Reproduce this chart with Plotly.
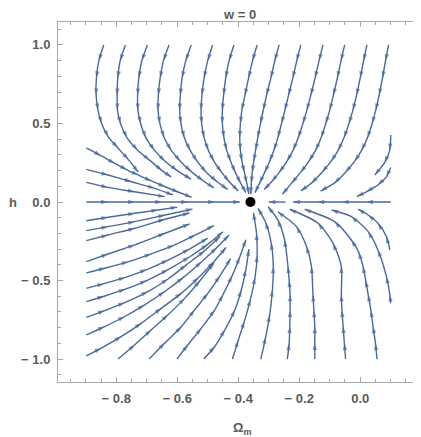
import plotly.graph_objects as go

# ---------------- data ----------------
fixed_point_x = [-0.36]
fixed_point_y = [0.0]

# streamlines entering from the top edge (h = 1)
top_streams = [
    [(-0.841, 1.0), (-0.857, 0.90), (-0.865, 0.79), (-0.866, 0.68), (-0.86, 0.585), (-0.848, 0.50), (-0.826, 0.415), (-0.795, 0.345), (-0.76, 0.27), (-0.728, 0.19)],
    [(-0.770, 1.0), (-0.787, 0.90), (-0.795, 0.79), (-0.797, 0.68), (-0.796, 0.585), (-0.786, 0.50), (-0.765, 0.41), (-0.73, 0.33), (-0.69, 0.265), (-0.65, 0.20), (-0.62, 0.16)],
    [(-0.698, 1.0), (-0.716, 0.90), (-0.726, 0.79), (-0.730, 0.68), (-0.729, 0.585), (-0.72, 0.50), (-0.703, 0.41), (-0.675, 0.33), (-0.64, 0.26), (-0.60, 0.20), (-0.555, 0.145)],
    [(-0.627, 1.0), (-0.645, 0.90), (-0.656, 0.79), (-0.662, 0.68), (-0.663, 0.585), (-0.657, 0.50), (-0.643, 0.41), (-0.62, 0.33), (-0.59, 0.26), (-0.555, 0.195), (-0.515, 0.135), (-0.48, 0.09)],
    [(-0.554, 1.0), (-0.572, 0.90), (-0.584, 0.79), (-0.59, 0.68), (-0.592, 0.585), (-0.588, 0.50), (-0.577, 0.41), (-0.558, 0.33), (-0.535, 0.26), (-0.505, 0.19), (-0.47, 0.13), (-0.435, 0.08)],
    [(-0.484, 1.0), (-0.50, 0.90), (-0.512, 0.79), (-0.519, 0.68), (-0.522, 0.585), (-0.52, 0.50), (-0.512, 0.41), (-0.498, 0.33), (-0.48, 0.26), (-0.455, 0.19), (-0.43, 0.13), (-0.40, 0.07)],
    [(-0.414, 1.0), (-0.43, 0.90), (-0.441, 0.79), (-0.448, 0.68), (-0.452, 0.585), (-0.452, 0.50), (-0.447, 0.41), (-0.438, 0.33), (-0.425, 0.26), (-0.41, 0.19), (-0.392, 0.12), (-0.375, 0.06)],
    [(-0.338, 1.0), (-0.353, 0.90), (-0.366, 0.79), (-0.378, 0.68), (-0.388, 0.585), (-0.393, 0.50), (-0.395, 0.41), (-0.393, 0.33), (-0.388, 0.26), (-0.38, 0.19), (-0.372, 0.12), (-0.365, 0.05)],
    [(-0.266, 1.0), (-0.28, 0.90), (-0.293, 0.79), (-0.307, 0.68), (-0.318, 0.585), (-0.327, 0.50), (-0.336, 0.41), (-0.343, 0.33), (-0.349, 0.26), (-0.354, 0.19), (-0.357, 0.12), (-0.359, 0.05)],
    [(-0.195, 1.0), (-0.208, 0.90), (-0.221, 0.79), (-0.235, 0.68), (-0.247, 0.585), (-0.258, 0.50), (-0.27, 0.41), (-0.283, 0.33), (-0.297, 0.26), (-0.313, 0.19), (-0.33, 0.12), (-0.345, 0.06)],
    [(-0.122, 1.0), (-0.135, 0.90), (-0.148, 0.79), (-0.162, 0.68), (-0.175, 0.585), (-0.188, 0.50), (-0.203, 0.41), (-0.22, 0.33), (-0.24, 0.26), (-0.265, 0.19), (-0.29, 0.13), (-0.315, 0.08)],
    [(-0.051, 1.0), (-0.063, 0.90), (-0.075, 0.79), (-0.088, 0.68), (-0.10, 0.585), (-0.113, 0.50), (-0.128, 0.41), (-0.146, 0.33), (-0.168, 0.26), (-0.195, 0.19), (-0.225, 0.12), (-0.255, 0.05)],
    [(0.022, 1.0), (0.011, 0.90), (0.0, 0.79), (-0.012, 0.68), (-0.024, 0.585), (-0.037, 0.50), (-0.053, 0.41), (-0.072, 0.33), (-0.095, 0.26), (-0.125, 0.19), (-0.16, 0.12), (-0.195, 0.07)],
    [(0.093, 1.0), (0.083, 0.90), (0.073, 0.79), (0.062, 0.68), (0.051, 0.585), (0.039, 0.50), (0.024, 0.41), (0.005, 0.33), (-0.018, 0.26), (-0.048, 0.19), (-0.085, 0.12), (-0.13, 0.07)],
]

# streamlines entering from the left edge, above the axis
upper_left_streams = [
    [(-0.898, 0.345), (-0.85, 0.295), (-0.805, 0.246), (-0.765, 0.205), (-0.728, 0.172), (-0.685, 0.134), (-0.64, 0.097), (-0.595, 0.062), (-0.553, 0.03)],
    [(-0.898, 0.208), (-0.827, 0.172), (-0.75, 0.129), (-0.674, 0.087), (-0.614, 0.045)],
    [(-0.898, 0.125), (-0.827, 0.093), (-0.74, 0.065), (-0.641, 0.034)],
]

# streamlines on the h = 0 axis
axis_streams = [
    [(-0.898, 0.0), (-0.828, 0.0), (-0.739, 0.0), (-0.650, 0.0), (-0.565, 0.0), (-0.477, 0.0), (-0.395, 0.0)],
    [(0.10, 0.0), (0.02, 0.0), (-0.06, 0.0), (-0.14, 0.0), (-0.22, 0.0)],
    [(-0.245, 0.0), (-0.30, 0.0)],
]

# streamlines entering from the right edge
right_streams = [
    [(0.10, 0.426), (0.097, 0.33), (0.08, 0.25), (0.048, 0.172)],
    [(0.10, 0.22), (0.086, 0.16), (0.058, 0.108), (0.02, 0.065), (-0.01, 0.035)],
    [(0.097, -0.305), (0.086, -0.22), (0.058, -0.135), (0.026, -0.083), (-0.007, -0.046)],
    [(0.10, -0.645), (0.097, -0.59), (0.086, -0.475), (0.058, -0.305), (0.026, -0.189), (-0.029, -0.093), (-0.094, -0.051)],
]

# streamlines entering from the left edge, below the axis
lower_left_streams = [
    [(-0.898, -0.119), (-0.827, -0.097), (-0.739, -0.072), (-0.663, -0.051), (-0.60, -0.033)],
    [(-0.898, -0.182), (-0.827, -0.157), (-0.739, -0.125), (-0.64, -0.083), (-0.55, -0.045)],
    [(-0.898, -0.246), (-0.827, -0.21), (-0.739, -0.167), (-0.64, -0.11), (-0.56, -0.07)],
    [(-0.898, -0.38), (-0.827, -0.331), (-0.739, -0.273), (-0.64, -0.199), (-0.56, -0.14)],
    [(-0.898, -0.451), (-0.835, -0.42), (-0.76, -0.38), (-0.685, -0.33), (-0.61, -0.275), (-0.54, -0.21), (-0.48, -0.15)],
    [(-0.898, -0.55), (-0.84, -0.52), (-0.77, -0.48), (-0.70, -0.43), (-0.63, -0.37), (-0.56, -0.30), (-0.50, -0.23)],
    [(-0.898, -0.634), (-0.84, -0.60), (-0.77, -0.555), (-0.70, -0.50), (-0.63, -0.43), (-0.56, -0.35), (-0.50, -0.27), (-0.45, -0.19)],
    [(-0.898, -0.735), (-0.838, -0.691), (-0.772, -0.64), (-0.696, -0.57), (-0.63, -0.49), (-0.57, -0.40), (-0.51, -0.31), (-0.46, -0.22)],
    [(-0.898, -0.846), (-0.838, -0.793), (-0.772, -0.729), (-0.707, -0.655), (-0.641, -0.57), (-0.58, -0.48), (-0.52, -0.38), (-0.47, -0.29), (-0.43, -0.21)],
    [(-0.898, -0.979), (-0.849, -0.93), (-0.783, -0.856), (-0.717, -0.771), (-0.652, -0.676), (-0.586, -0.58), (-0.53, -0.48), (-0.48, -0.38), (-0.44, -0.29)],
]

# streamlines entering from the bottom edge (h = -1)
bottom_streams = [
    [(-0.794, -1.0), (-0.739, -0.909), (-0.685, -0.814), (-0.63, -0.718), (-0.575, -0.612), (-0.525, -0.50), (-0.48, -0.39)],
    [(-0.692, -1.0), (-0.641, -0.898), (-0.586, -0.793), (-0.543, -0.687), (-0.499, -0.58), (-0.46, -0.47), (-0.425, -0.36)],
    [(-0.601, -1.0), (-0.565, -0.909), (-0.521, -0.803), (-0.477, -0.687), (-0.45, -0.59), (-0.42, -0.47), (-0.395, -0.35), (-0.375, -0.24)],
    [(-0.513, -1.0), (-0.477, -0.92), (-0.444, -0.814), (-0.411, -0.687), (-0.39, -0.56), (-0.375, -0.43), (-0.365, -0.30)],
    [(-0.419, -1.0), (-0.40, -0.88), (-0.38, -0.76), (-0.36, -0.62), (-0.345, -0.48), (-0.338, -0.34), (-0.34, -0.2), (-0.35, -0.07)],
    [(-0.326, -1.0), (-0.31, -0.86), (-0.297, -0.72), (-0.288, -0.56), (-0.285, -0.41), (-0.292, -0.26), (-0.31, -0.13), (-0.335, -0.04)],
    [(-0.239, -1.0), (-0.233, -0.90), (-0.231, -0.793), (-0.23, -0.69), (-0.23, -0.59), (-0.233, -0.50), (-0.237, -0.41), (-0.248, -0.242), (-0.27, -0.114), (-0.302, -0.03)],
    [(-0.149, -1.0), (-0.149, -0.90), (-0.149, -0.793), (-0.152, -0.69), (-0.155, -0.59), (-0.16, -0.41), (-0.176, -0.284), (-0.209, -0.157), (-0.27, -0.062)],
    [(-0.048, -1.0), (-0.052, -0.90), (-0.056, -0.793), (-0.06, -0.69), (-0.062, -0.59), (-0.062, -0.41), (-0.089, -0.263), (-0.138, -0.135), (-0.231, -0.046)],
    [(0.055, -1.0), (0.05, -0.90), (0.042, -0.793), (0.035, -0.69), (0.026, -0.59), (0.018, -0.50), (0.009, -0.41), (-0.005, -0.32), (-0.029, -0.242), (-0.084, -0.125), (-0.182, -0.046)],
]

x_tick_vals = [-0.8, -0.6, -0.4, -0.2, 0.0]
x_tick_text = ["\u2212 0.8", "\u2212 0.6", "\u2212 0.4", "\u2212 0.2", "0.0"]
y_tick_vals = [-1.0, -0.5, 0.0, 0.5, 1.0]
y_tick_text = ["\u2212 1.0", "\u2212 0.5", "0.0", "0.5", "1.0"]

# ---------------- styling ----------------
LINE_COLOR = "rgb(72,105,155)"
FRAME_COLOR = "#a6a6a6"
TEXT_COLOR = "#5a5a5a"
FONT = "Liberation Sans, Arial, sans-serif"

fig = go.Figure()


def add_stream(pts):
    xs = [p[0] for p in pts]
    ys = [p[1] for p in pts]
    sizes = [0] + [7] * (len(pts) - 1)
    fig.add_trace(go.Scatter(
        x=xs, y=ys, mode="lines+markers",
        line=dict(color=LINE_COLOR, width=1.4, shape="spline", smoothing=0.7),
        marker=dict(symbol="arrow", size=sizes, angleref="previous",
                    color=LINE_COLOR, line=dict(width=0)),
        hoverinfo="skip", showlegend=False,
    ))


for group in (top_streams, upper_left_streams, axis_streams, right_streams,
              lower_left_streams, bottom_streams):
    for s in group:
        add_stream(s)

fig.add_trace(go.Scatter(
    x=fixed_point_x, y=fixed_point_y, mode="markers",
    marker=dict(color="black", size=10), hoverinfo="skip", showlegend=False,
))

axis_common = dict(
    showgrid=False, zeroline=False, showline=True, linecolor=FRAME_COLOR,
    linewidth=1, mirror="ticks", ticks="inside", ticklen=5, tickwidth=1,
    tickcolor=FRAME_COLOR,
    tickfont=dict(family=FONT, size=13, color=TEXT_COLOR, weight="bold"),
)

fig.update_xaxes(
    range=[-0.991, 0.196], tickvals=x_tick_vals, ticktext=x_tick_text,
    minor=dict(ticks="inside", ticklen=3, tickcolor=FRAME_COLOR, dtick=0.05, tick0=0),
    ticklabelstandoff=4,
    **axis_common,
)
fig.update_yaxes(
    range=[-1.146, 1.146], tickvals=y_tick_vals, ticktext=y_tick_text,
    minor=dict(ticks="inside", ticklen=3, tickcolor=FRAME_COLOR, dtick=0.1, tick0=0),
    ticklabelstandoff=4,
    **axis_common,
)

# the page body adds an 8px margin, so the figure is sized to fit inside it
fig.update_layout(
    width=413, height=429,
    margin=dict(l=50, r=1, t=14, b=55),
    plot_bgcolor="white", paper_bgcolor="white",
    showlegend=False,
    annotations=[
        dict(text="w = 0", xref="paper", yref="paper", x=0.5, y=1, yanchor="middle",
             yshift=8, showarrow=False,
             font=dict(family=FONT, size=13, color=TEXT_COLOR, weight="bold")),
        dict(text="h", xref="paper", yref="y", x=-0.142, y=0, showarrow=False,
             font=dict(family=FONT, size=13, color=TEXT_COLOR, weight="bold")),
        dict(text="\u03a9<sub>m</sub>", xref="paper", yref="paper", x=0.511, y=0,
             yanchor="middle", yshift=-46, showarrow=False,
             font=dict(family=FONT, size=13, color=TEXT_COLOR, weight="bold")),
    ],
)

fig.write_html("out.html")
